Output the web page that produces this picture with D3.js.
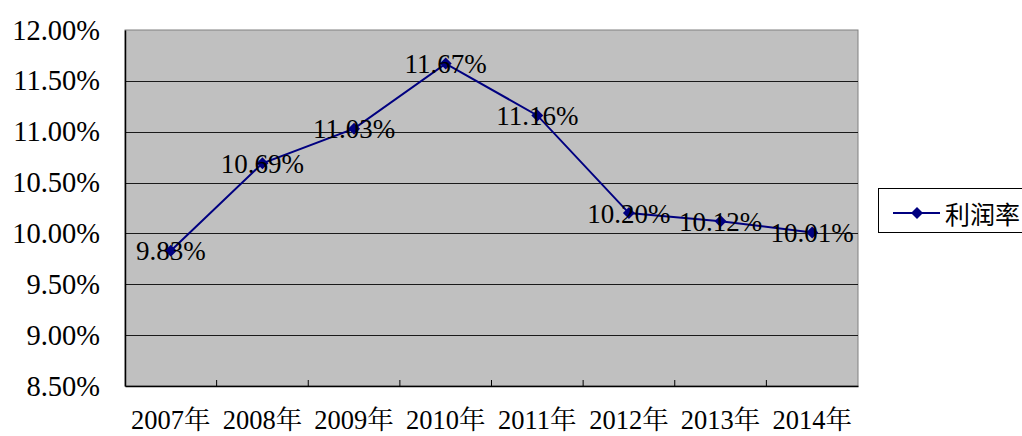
<!DOCTYPE html>
<html>
<head>
<meta charset="utf-8">
<script src="https://cdn.jsdelivr.net/npm/d3@7"></script>
<style>
  html, body { margin: 0; padding: 0; background: #fff; overflow: hidden; }
  svg { display: block; }
</style>
</head>
<body>
<svg id="chart" width="1022" height="436"></svg>
<script>
// Profit margin by year
const years = ["2007年", "2008年", "2009年", "2010年", "2011年", "2012年", "2013年", "2014年"];
const margin = [9.83, 10.69, 11.03, 11.67, 11.16, 10.20, 10.12, 10.01];
const yTicks = [8.5, 9.0, 9.5, 10.0, 10.5, 11.0, 11.5, 12.0];
const seriesName = "利润率";

const svg = d3.select("#chart");
const plot = { left: 125, top: 30, right: 858, bottom: 386 };
const serifStack = '"Liberation Serif", "Noto Serif CJK SC", serif';

const x = d3.scaleBand().domain(years).range([plot.left, plot.right]).padding(0);
const y = d3.scaleLinear().domain([8.5, 12.0]).range([plot.bottom, plot.top]);

// plot background
svg.append("rect")
  .attr("x", plot.left).attr("y", plot.top)
  .attr("width", plot.right - plot.left).attr("height", plot.bottom - plot.top)
  .attr("fill", "#c0c0c0").attr("stroke", "#808080").attr("stroke-width", 1);

// horizontal gridlines
svg.append("g")
  .selectAll("line")
  .data(yTicks.filter(t => t > 8.5 && t < 12))
  .join("line")
  .attr("x1", plot.left).attr("x2", plot.right)
  .attr("y1", d => Math.round(y(d)) + 0.5).attr("y2", d => Math.round(y(d)) + 0.5)
  .attr("stroke", "#1a1a1a").attr("stroke-width", 1);

// y axis
const yAxis = svg.append("g")
  .attr("transform", `translate(${plot.left},0)`)
  .call(d3.axisLeft(y).tickValues(yTicks).tickFormat(d => d.toFixed(2) + "%").tickSize(0).tickPadding(25));
yAxis.attr("font-family", null).attr("font-size", null);
yAxis.select(".domain").attr("stroke", "#000").attr("stroke-width", 1.5);
yAxis.selectAll("text")
  .style("font-family", serifStack).style("font-size", "28.5px").attr("fill", "#000");

// x axis: ticks on category boundaries, pointing inward
const xAxis = svg.append("g")
  .attr("transform", `translate(0,${plot.bottom})`)
  .call(d3.axisBottom(x).tickSize(0).tickPadding(0));
xAxis.attr("font-family", null).attr("font-size", null);
xAxis.select(".domain").attr("stroke", "#000").attr("stroke-width", 1.5);
xAxis.selectAll("text")
  .attr("dy", null).attr("y", 43)
  .style("font-family", serifStack).style("font-size", "26.5px").attr("fill", "#000");
xAxis.selectAll(".boundary")
  .data(years.slice(1))
  .join("line")
  .attr("class", "boundary")
  .attr("x1", d => x(d)).attr("x2", d => x(d))
  .attr("y1", 0).attr("y2", -6)
  .attr("stroke", "#000").attr("stroke-width", 1);

// series line
const cx = d => x(d) + x.bandwidth() / 2;
const pts = years.map((yr, i) => [cx(yr), y(margin[i])]);
svg.append("path")
  .attr("d", d3.line()(pts))
  .attr("fill", "none").attr("stroke", "#000080").attr("stroke-width", 2);

// square rotated 45° gives the diamond marker
const diamond = d3.symbol().type(d3.symbolSquare).size(72);
svg.append("g")
  .selectAll("path")
  .data(pts)
  .join("path")
  .attr("transform", d => `translate(${d[0]},${d[1]}) rotate(45)`)
  .attr("d", diamond)
  .attr("fill", "#000080");

// value labels, centred on each point
svg.append("g")
  .selectAll("text")
  .data(years.map((yr, i) => ({ yr, v: margin[i] })))
  .join("text")
  .attr("x", d => cx(d.yr))
  .attr("y", d => y(d.v) + 0.5)
  .attr("text-anchor", "middle")
  .attr("dominant-baseline", "central")
  .style("font-family", serifStack).style("font-size", "27px").attr("fill", "#000")
  .text(d => d.v.toFixed(2) + "%");

// legend
const legend = svg.append("g").attr("transform", "translate(878,188)");
legend.append("rect")
  .attr("x", 0.5).attr("y", 0.5).attr("width", 170).attr("height", 44)
  .attr("fill", "#fff").attr("stroke", "#000").attr("stroke-width", 1);
legend.append("line")
  .attr("x1", 15).attr("x2", 62).attr("y1", 25).attr("y2", 25)
  .attr("stroke", "#000080").attr("stroke-width", 2);
legend.append("path")
  .attr("transform", "translate(39,25) rotate(45)")
  .attr("d", diamond).attr("fill", "#000080");
legend.append("text")
  .attr("x", 67).attr("y", 25)
  .attr("dominant-baseline", "central")
  .style("font-family", '"Noto Sans CJK SC", sans-serif').style("font-size", "25px").attr("fill", "#000")
  .text(seriesName);
</script>
</body>
</html>
